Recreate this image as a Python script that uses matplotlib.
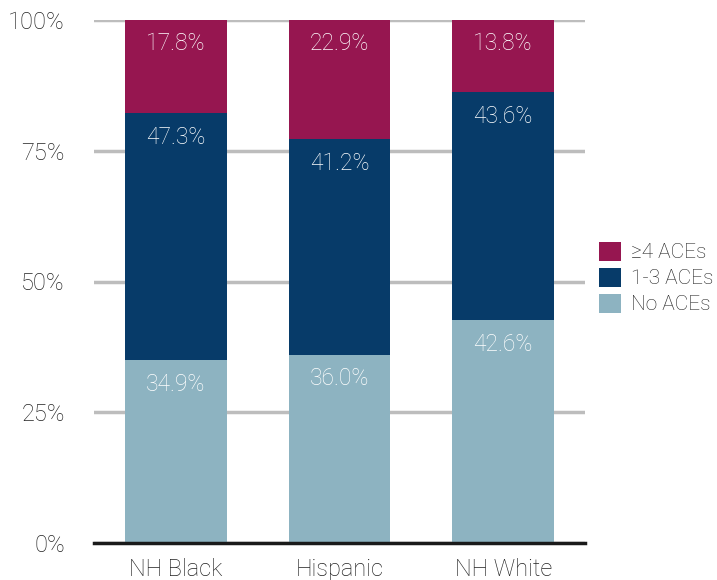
import matplotlib
matplotlib.use("Agg")
import matplotlib.pyplot as plt
from matplotlib import font_manager as fm
import numpy as np

categories = ["NH Black", "Hispanic", "NH White"]
no_aces = [34.9, 36.0, 42.6]
one_three = [47.3, 41.2, 43.6]
four_plus = [17.8, 22.9, 13.8]
series_names = ["No ACEs", "1-3 ACEs", "\u22654 ACEs"]
colors = ["#8DB3C1", "#073B69", "#961650"]

fam = "Roboto"
names = {f.name for f in fm.fontManager.ttflist}
weight = "light"
if "Roboto" not in names:
    fam = "DejaVu Sans"
    weight = "normal"
plt.rcParams['font.family'] = [fam, 'DejaVu Sans']
plt.rcParams['font.weight'] = weight

fig = plt.figure(figsize=(7.17, 5.8), dpi=100)
ax = fig.add_axes([94/717, 1-543/580, (585-94)/717, (543-20)/580])

x = np.arange(len(categories))
width = 0.62
bottom = np.zeros(len(categories))
handles = []
for vals, name, col in zip([no_aces, one_three, four_plus], series_names, colors):
    vals = np.array(vals)
    b = ax.bar(x, vals, width, bottom=bottom, color=col, label=name, zorder=3)
    handles.append(b)
    for xi, v, bt in zip(x, vals, bottom):
        top = min(bt + v, 100)
        ax.annotate(f"{v:.1f}%", (xi, top), xytext=(0, -9), textcoords="offset points",
                    ha="center", va="top", color="#FFFFFF", fontsize=16.5, fontweight=weight)
    bottom = bottom + vals

ax.set_xlim(-0.5, 2.5)
ax.set_ylim(0, 100)
ax.set_yticks([0, 25, 50, 75, 100])
ax.set_yticklabels(["0%", "25%", "50%", "75%", "100%"])
ax.set_xticks(x)
ax.set_xticklabels(categories)
ax.yaxis.grid(True, color="#BDBDBD", linewidth=2.5, zorder=0)
for s in ["top", "right", "left"]:
    ax.spines[s].set_visible(False)
ax.spines["bottom"].set_linewidth(2.5)
ax.spines["bottom"].set_color("#1a1a1a")
ax.spines["bottom"].set_zorder(4)
ax.tick_params(axis="both", length=0, labelsize=17, colors="#222222")
ax.tick_params(axis="y", pad=21)
ax.tick_params(axis="x", pad=11)

leg = fig.legend(handles[::-1], series_names[::-1], loc="center left",
                 bbox_to_anchor=(599/717, 1-278/580), frameon=False, fontsize=15,
                 handlelength=1.05, handleheight=1.05, handletextpad=0.5, labelspacing=0.25,
                 borderaxespad=0, borderpad=0)
for t in leg.get_texts():
    t.set_color("#222222")

fig.savefig("out.png", dpi=100)
